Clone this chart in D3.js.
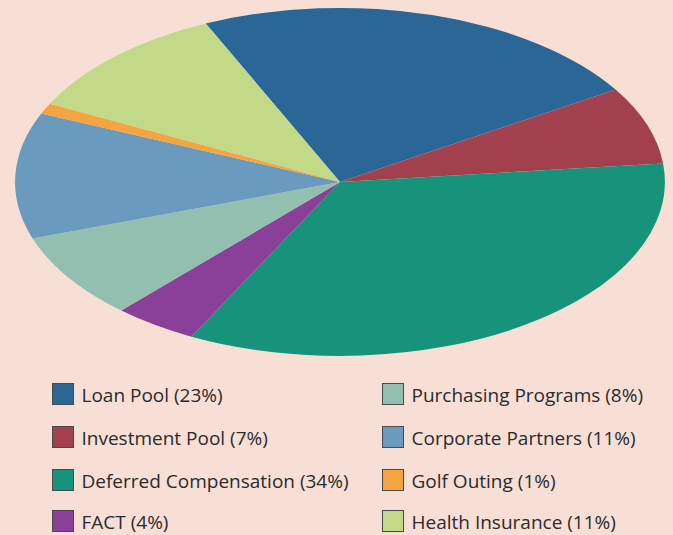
<!DOCTYPE html>
<html><head><meta charset="utf-8">
<script src="https://cdn.jsdelivr.net/npm/d3@7"></script>
<style>html,body{margin:0;padding:0;background:#f7dfd6;overflow:hidden}</style>
</head><body>
<svg id="c" width="673" height="535"></svg>
<script>
const categories = ["Loan Pool","Investment Pool","Deferred Compensation","FACT","Purchasing Programs","Corporate Partners","Golf Outing","Health Insurance"];
const values = [22.9, 7.2, 34.3, 4.2, 8.0, 11.7, 1.0, 10.8];
const labels = ["Loan Pool (23%)","Investment Pool (7%)","Deferred Compensation (34%)","FACT (4%)","Purchasing Programs (8%)","Corporate Partners (11%)","Golf Outing (1%)","Health Insurance (11%)"];
const colors = ["#2a6797","#a3404d","#16937a","#8a3f98","#93bfb0","#6a9bbe","#f5a442","#c2da88"];

const svg = d3.select("#c");
svg.append("rect").attr("width",673).attr("height",535).attr("fill","#f7dfd6");

const cx = 340, cy = 182, rx = 325, ry = 174;
const startDeg = -24.4;
const pie = d3.pie().sort(null).value(d => d.v)
  .startAngle(startDeg*Math.PI/180).endAngle(startDeg*Math.PI/180 + 2*Math.PI);
const data = categories.map((c,i)=>({c, v: values[i], col: colors[i]}));
const arc = d3.arc().innerRadius(0).outerRadius(1);

const g = svg.append("g").attr("transform",`translate(${cx},${cy}) scale(${rx},${ry})`);
g.selectAll("path").data(pie(data)).join("path")
  .attr("d", arc).attr("fill", d => d.data.col);

// legend
const leg = svg.append("g");
const colX = [52, 382], rowY = [383, 426, 469, 510];
labels.forEach((t,i)=>{
  const col = Math.floor(i/4), row = i%4;
  const gg = leg.append("g").attr("transform",`translate(${colX[col]},${rowY[row]})`);
  gg.append("rect").attr("x",0.5).attr("y",0.5).attr("width",21).attr("height",21)
    .attr("fill",colors[i]).attr("stroke","#4a4a4a").attr("stroke-width",1);
  gg.append("text").attr("x",29.5).attr("y",19).text(t)
    .attr("font-family","'Open Sans', sans-serif").attr("font-size",19).attr("fill","#2b2b2b");
});
</script>
</body></html>
